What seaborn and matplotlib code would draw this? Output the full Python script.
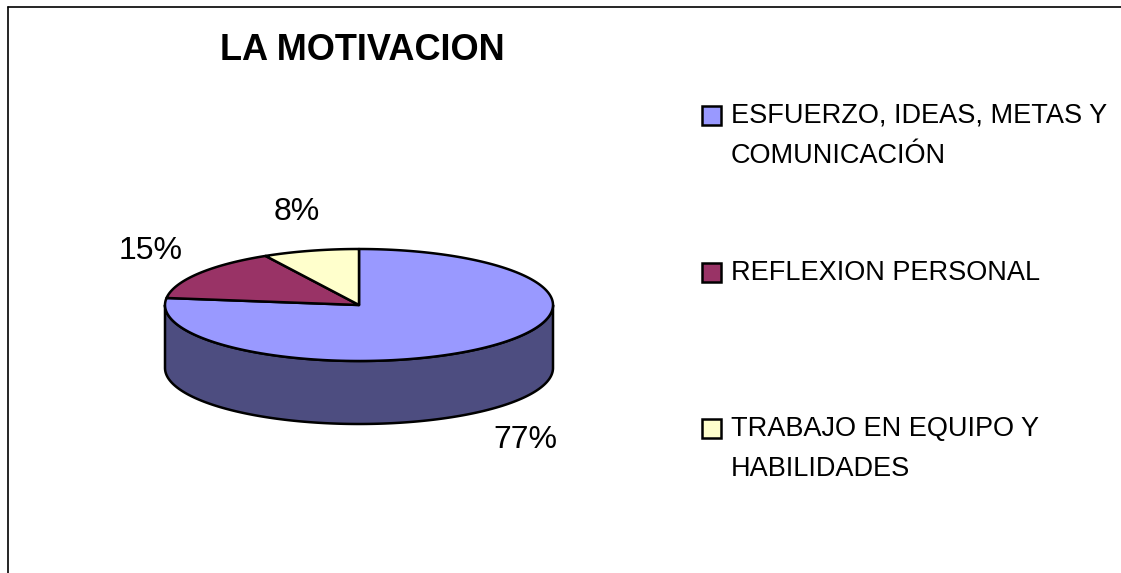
import numpy as np
import matplotlib
matplotlib.use("Agg")
import matplotlib.pyplot as plt
from matplotlib.patches import Polygon, Rectangle
import seaborn as sns

# datos
categorias = ["ESFUERZO, IDEAS, METAS Y\nCOMUNICACIÓN",
              "REFLEXION PERSONAL",
              "TRABAJO EN EQUIPO Y\nHABILIDADES"]
valores = [77, 15, 8]
etiquetas = ["77%", "15%", "8%"]
colores = ["#9999FF", "#993366", "#FFFFCC"]
titulo = "LA MOTIVACION"

sns.set_theme(style="white")
plt.rcParams['font.family'] = ['Liberation Sans', 'DejaVu Sans']

W, H = 1121, 573
fig = plt.figure(figsize=(W / 100, H / 100), dpi=100)
ax = fig.add_axes([0, 0, 1, 1])
ax.set_xlim(0, W)
ax.set_ylim(H, 0)
ax.axis("off")

# marco del grafico (solo se ve arriba e izquierda)
ax.plot([8, 8], [7, H], color="black", lw=1.2)
ax.plot([8, W], [7, 7], color="black", lw=1.2)

# geometria de la torta 3D
cx, cy = 359, 305
rx, ry = 194, 56
prof = 63


def punto(t):
    t = np.radians(t)
    return cx + rx * np.cos(t), cy - ry * np.sin(t)


total = sum(valores)
angs = 90 - 360 * np.cumsum([0] + valores) / total
sombras = [tuple(0.5 * c for c in matplotlib.colors.to_rgb(col)) for col in colores]

# paredes laterales (solo la parte frontal)
for i in range(len(valores)):
    a_ini, a_fin = angs[i], angs[i + 1]  # a_fin < a_ini
    for k in (-1, 0, 1):
        lo = max(a_fin, -180 + 360 * k)
        hi = min(a_ini, 360 * k)
        if hi <= lo:
            continue
        t = np.linspace(lo, hi, 200)
        xs, ys = punto(t)
        pts = np.vstack([np.column_stack([xs, ys]),
                         np.column_stack([xs[::-1], ys[::-1] + prof])])
        ax.add_patch(Polygon(pts, closed=True, facecolor=sombras[i],
                             edgecolor="black", lw=1.8, joinstyle="round"))

# cara superior
for i in range(len(valores)):
    t = np.linspace(angs[i], angs[i + 1], 200)
    xs, ys = punto(t)
    pts = np.vstack([[cx, cy], np.column_stack([xs, ys])])
    ax.add_patch(Polygon(pts, closed=True, facecolor=colores[i],
                         edgecolor="black", lw=1.8, joinstyle="round"))

# etiquetas de porcentaje
for i, txt in enumerate(etiquetas):
    m = np.radians((angs[i] + angs[i + 1]) / 2)
    lx = cx + 1.3 * rx * np.cos(m)
    ly = cy - 1.72 * ry * np.sin(m) + (prof if np.sin(m) < 0 else 0)
    ax.text(lx, ly, txt, fontsize=23, ha="center", va="center", color="black")

# titulo
ax.text(362, 50, titulo, fontsize=26, fontweight="bold", ha="center",
        va="center", color="black")

# leyenda
ley_y = [115, 272, 428]
for i, cat in enumerate(categorias):
    ax.add_patch(Rectangle((702, ley_y[i] - 9.5), 19, 19, facecolor=colores[i],
                           edgecolor="black", lw=1.8))
    ax.text(731, ley_y[i] - 12, cat, fontsize=19.5, ha="left", va="top",
            linespacing=1.7, color="black")

fig.savefig("out.png", dpi=100, facecolor="white")
